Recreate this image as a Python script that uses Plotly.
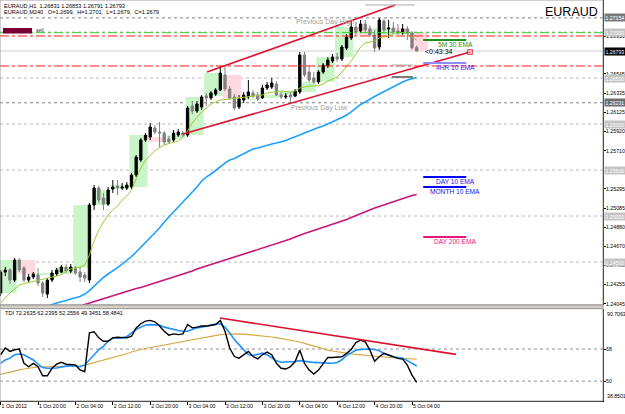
import plotly.graph_objects as go

# ---------------- data ----------------
bars = list(range(90))  # hourly bars, bar 0 = 1 Oct 2012 12:00
time_tick_bars = [0, 8, 16, 24, 32, 40, 48, 56, 64, 72, 80, 88]
time_tick_text = ["1 Oct 2012", "1 Oct 20:00", "2 Oct 04:00", "2 Oct 12:00", "2 Oct 20:00",
                  "3 Oct 04:00", "3 Oct 12:00", "3 Oct 20:00", "4 Oct 04:00", "4 Oct 12:00",
                  "4 Oct 20:00", "5 Oct 04:00"]

open_ = [
    1.24163, 1.24391, 1.24413, 1.24304, 1.24522, 1.24435, 1.24304, 1.24337, 1.24359, 1.24272,
    1.24152, 1.24304, 1.24370, 1.24391, 1.24446, 1.24402, 1.24435, 1.24391, 1.24359, 1.24304,
    1.25120, 1.25304, 1.25196, 1.25130, 1.25293, 1.25326, 1.25304, 1.25304, 1.25315, 1.25446,
    1.25609, 1.25826, 1.25859, 1.25957, 1.25913, 1.25902, 1.25837, 1.25826, 1.25880, 1.25902,
    1.25880, 1.26196, 1.26141, 1.26185, 1.26304, 1.26283, 1.26326, 1.26370, 1.26533, 1.26381,
    1.26294, 1.26185, 1.26261, 1.26294, 1.26337, 1.26315, 1.26283, 1.26391, 1.26402, 1.26435,
    1.26315, 1.26294, 1.26315, 1.26304, 1.26348, 1.26750, 1.26565, 1.26500, 1.26457, 1.26565,
    1.26631, 1.26685, 1.26728, 1.26707, 1.26826, 1.26935, 1.27054, 1.27011, 1.27087, 1.27033,
    1.26968, 1.26837, 1.27120, 1.27033, 1.27044, 1.27011, 1.26989, 1.27033, 1.26990, 1.26831,
]
high = [
    1.24413, 1.24446, 1.24435, 1.24544, 1.24544, 1.24456, 1.24370, 1.24391, 1.24435, 1.24294,
    1.24326, 1.24413, 1.24435, 1.24467, 1.24478, 1.24478, 1.24456, 1.24446, 1.24391, 1.25141,
    1.25337, 1.25326, 1.25250, 1.25315, 1.25391, 1.25391, 1.25359, 1.25370, 1.25467, 1.25663,
    1.25848, 1.25902, 1.26011, 1.25989, 1.26022, 1.25924, 1.25870, 1.25935, 1.25946, 1.25924,
    1.26196, 1.26250, 1.26250, 1.26315, 1.26337, 1.26359, 1.26391, 1.26631, 1.26620, 1.26413,
    1.26326, 1.26315, 1.26348, 1.26478, 1.26370, 1.26348, 1.26424, 1.26457, 1.26500, 1.26467,
    1.26348, 1.26337, 1.26348, 1.26381, 1.26783, 1.26783, 1.26631, 1.26565, 1.26587, 1.26663,
    1.26728, 1.26761, 1.26772, 1.26859, 1.26978, 1.27131, 1.27109, 1.27131, 1.27131, 1.27076,
    1.27022, 1.27154, 1.27141, 1.27131, 1.27109, 1.27087, 1.27087, 1.27065, 1.27010, 1.26853,
]
low = [
    1.24131, 1.24348, 1.24261, 1.24283, 1.24391, 1.24283, 1.24283, 1.24315, 1.24239, 1.24120,
    1.24109, 1.24283, 1.24348, 1.24380, 1.24380, 1.24380, 1.24359, 1.24283, 1.24283, 1.24272,
    1.25065, 1.25141, 1.25065, 1.25109, 1.25250, 1.25228, 1.25283, 1.25283, 1.25293, 1.25424,
    1.25587, 1.25804, 1.25826, 1.25891, 1.25750, 1.25772, 1.25783, 1.25804, 1.25859, 1.25859,
    1.25859, 1.26109, 1.26120, 1.26152, 1.26196, 1.26261, 1.26304, 1.26359, 1.26359, 1.26261,
    1.26152, 1.26163, 1.26228, 1.26272, 1.26283, 1.26250, 1.26272, 1.26370, 1.26381, 1.26304,
    1.26272, 1.26272, 1.26231, 1.26294, 1.26326, 1.26511, 1.26457, 1.26435, 1.26435, 1.26544,
    1.26609, 1.26663, 1.26674, 1.26685, 1.26804, 1.26913, 1.26968, 1.26989, 1.27000, 1.26946,
    1.26783, 1.26804, 1.26989, 1.26935, 1.26978, 1.26968, 1.26968, 1.26913, 1.26810, 1.26791,
]
close = [
    1.24391, 1.24413, 1.24304, 1.24522, 1.24413, 1.24304, 1.24337, 1.24370, 1.24272, 1.24163,
    1.24304, 1.24380, 1.24413, 1.24446, 1.24402, 1.24446, 1.24380, 1.24337, 1.24326, 1.25120,
    1.25304, 1.25174, 1.25130, 1.25283, 1.25315, 1.25304, 1.25315, 1.25337, 1.25446, 1.25641,
    1.25826, 1.25880, 1.25968, 1.25913, 1.25902, 1.25804, 1.25804, 1.25902, 1.25913, 1.25880,
    1.26174, 1.26141, 1.26218, 1.26294, 1.26283, 1.26337, 1.26370, 1.26554, 1.26381, 1.26283,
    1.26174, 1.26272, 1.26315, 1.26348, 1.26304, 1.26272, 1.26391, 1.26424, 1.26446, 1.26315,
    1.26294, 1.26304, 1.26294, 1.26359, 1.26750, 1.26533, 1.26478, 1.26457, 1.26565, 1.26641,
    1.26696, 1.26728, 1.26707, 1.26837, 1.26946, 1.27054, 1.27000, 1.27087, 1.27022, 1.26968,
    1.26826, 1.27131, 1.27022, 1.27044, 1.27000, 1.26989, 1.27033, 1.26985, 1.26831, 1.26793,
]

# fast H1 moving average (yellow-green)
ma_green = [
    1.24054, 1.24109, 1.24163, 1.24207, 1.24250, 1.24266, 1.24277, 1.24288, 1.24299, 1.24310,
    1.24321, 1.24332, 1.24348, 1.24364, 1.24402, 1.24424, 1.24435, 1.24446, 1.24467, 1.24576,
    1.24728, 1.24848, 1.24935, 1.25011, 1.25065, 1.25109, 1.25174, 1.25217, 1.25283, 1.25413,
    1.25522, 1.25609, 1.25663, 1.25707, 1.25745, 1.25772, 1.25788, 1.25804, 1.25815, 1.25859,
    1.25924, 1.26011, 1.26076, 1.26130, 1.26174, 1.26218, 1.26239, 1.26261, 1.26266, 1.26272,
    1.26272, 1.26277, 1.26283, 1.26294, 1.26299, 1.26304, 1.26315, 1.26337, 1.26348, 1.26353,
    1.26359, 1.26353, 1.26348, 1.26359, 1.26391, 1.26402, 1.26413, 1.26413, 1.26419, 1.26435,
    1.26467, 1.26489, 1.26511, 1.26565, 1.26620, 1.26685, 1.26761, 1.26837, 1.26880, 1.26891,
    1.26902, 1.26935, 1.26946, 1.26957, 1.26978, 1.26989, 1.26995, 1.26978, 1.26946, 1.26913,
]
# slower average (sky blue), values from bar 9 onwards
ma_blue = [
    1.23989, 1.24016, 1.24038, 1.24054, 1.24065, 1.24082, 1.24098, 1.24109, 1.24125, 1.24152,
    1.24190, 1.24239, 1.24288, 1.24332, 1.24370, 1.24402, 1.24440, 1.24478, 1.24516, 1.24560,
    1.24609, 1.24663, 1.24707, 1.24761, 1.24815, 1.24870, 1.24935, 1.24989, 1.25044, 1.25098,
    1.25152, 1.25207, 1.25261, 1.25315, 1.25380, 1.25424, 1.25457, 1.25500, 1.25533, 1.25576,
    1.25609, 1.25625, 1.25652, 1.25679, 1.25707, 1.25728, 1.25739, 1.25756, 1.25772, 1.25783,
    1.25794, 1.25804, 1.25821, 1.25843, 1.25859, 1.25880, 1.25902, 1.25924, 1.25946, 1.25962,
    1.25978, 1.26000, 1.26022, 1.26043, 1.26071, 1.26098, 1.26131, 1.26174, 1.26212, 1.26239,
    1.26272, 1.26299, 1.26326, 1.26353, 1.26381, 1.26408, 1.26435, 1.26457, 1.26478, 1.26495,
    1.26505,
]
# long average (magenta), values from bar 14 onwards
ma_magenta = [
    1.24000, 1.24005, 1.24011, 1.24022, 1.24038, 1.24054, 1.24071, 1.24087, 1.24103, 1.24120,
    1.24131, 1.24147, 1.24163, 1.24179, 1.24196, 1.24212, 1.24223, 1.24239, 1.24250, 1.24266,
    1.24283, 1.24299, 1.24315, 1.24332, 1.24348, 1.24364, 1.24386, 1.24402, 1.24424, 1.24440,
    1.24456, 1.24473, 1.24495, 1.24511, 1.24527, 1.24544, 1.24560, 1.24576, 1.24592, 1.24609,
    1.24625, 1.24641, 1.24652, 1.24668, 1.24685, 1.24701, 1.24717, 1.24734, 1.24750, 1.24772,
    1.24793, 1.24810, 1.24826, 1.24842, 1.24859, 1.24875, 1.24891, 1.24908, 1.24924, 1.24946,
    1.24962, 1.24984, 1.25006, 1.25027, 1.25049, 1.25065, 1.25087, 1.25103, 1.25120, 1.25136,
    1.25158, 1.25174, 1.25190, 1.25207, 1.25223, 1.25234,
]

# TDI indicator
tdi_price = [
    64.8, 68.6, 66.7, 67.6, 68.0, 60.0, 58.1, 60.0, 58.1, 53.0,
    53.0, 57.2, 59.5, 60.6, 59.5, 59.1, 59.1, 56.3, 55.3, 77.1,
    77.7, 74.3, 72.4, 72.4, 74.3, 74.6, 74.3, 74.3, 75.2, 79.9,
    82.2, 83.7, 84.1, 83.3, 80.9, 78.0, 75.8, 76.5, 76.1, 76.5,
    81.8, 79.9, 80.3, 80.9, 80.9, 81.3, 81.8, 84.1, 78.0, 68.6,
    63.8, 62.9, 64.8, 66.7, 63.8, 62.5, 64.8, 66.3, 64.8, 60.0,
    57.2, 56.8, 58.1, 61.0, 67.4, 60.0, 56.2, 54.0, 56.2, 59.6,
    63.3, 63.3, 63.3, 63.7, 65.6, 67.8, 71.6, 73.0, 72.0, 67.4,
    61.2, 63.7, 65.6, 64.6, 63.3, 62.75, 62.4, 59.0, 53.4, 49.3451,
]
tdi_signal = [
    60.0, 61.9, 62.9, 64.8, 65.2, 64.8, 63.3, 61.9, 59.5, 57.6,
    57.2, 57.2, 57.4, 58.0, 58.4, 58.7, 58.5, 58.1, 59.1, 61.9,
    64.8, 67.6, 69.5, 72.4, 74.3, 74.3, 74.3, 75.0, 77.0, 79.0,
    80.3, 81.5, 81.7, 81.8, 81.5, 80.3, 79.6, 79.0, 78.4, 78.0,
    78.0, 79.0, 79.9, 80.3, 80.9, 81.5, 82.0, 82.2, 80.3, 77.1,
    73.3, 70.5, 67.6, 64.8, 64.4, 65.2, 65.7, 64.8, 62.9, 61.4,
    60.6, 60.6, 60.8, 61.0, 61.5, 61.0, 60.8, 60.5, 60.3, 60.2,
    60.0, 60.0, 60.5, 62.0, 64.5, 66.0, 67.3, 67.8, 68.0, 68.0,
    67.8, 67.0, 65.5, 64.3, 63.5, 63.2, 62.8, 61.5, 59.8, 58.4841,
]
tdi_middle = [
    53.8, 54.5, 55.1, 55.7, 56.3, 56.8, 57.3, 57.7, 58.0, 58.1,
    58.1, 58.1, 58.1, 58.1, 58.2, 58.3, 58.4, 58.5, 59.0, 59.7,
    60.5, 61.3, 61.9, 62.5, 63.1, 63.7, 64.5, 65.4, 66.3, 67.2,
    67.8, 68.3, 68.8, 69.2, 69.6, 70.2, 70.8, 71.4, 72.0, 72.5,
    73.0, 73.5, 74.0, 74.5, 75.0, 75.4, 75.8, 76.1, 76.3, 76.5,
    76.6, 76.5, 76.4, 76.2, 76.0, 75.8, 75.5, 75.2, 74.8, 74.4,
    74.0, 73.5, 73.0, 72.5, 72.0, 71.2, 70.4, 69.4, 68.6, 68.0,
    67.4, 66.9, 66.4, 66.0, 65.6, 65.3, 65.0, 64.7, 64.4, 64.2,
    63.9, 63.7, 63.5, 63.3, 63.1, 62.9, 62.7, 62.5, 62.3, 62.2395,
]

# trend lines (bar, value)
upper_tl_x, upper_tl_y = [44.15, 84.4], [1.26565, 1.27293]
lower_tl_x, lower_tl_y = [39.0, 100.4], [1.25891, 1.26783]
tdi_tl_x, tdi_tl_y = [46.9, 97.4], [85.4, 65.0]

# horizontal levels
round_levels = [1.245, 1.250, 1.255, 1.260, 1.265, 1.270]
prev_day_high, prev_day_low = 1.27154, 1.26231
bid_price = 1.26793
green_dashdot = [1.26993]
red_dashdot = [1.26957, 1.26631]
gray_marks = [1.27294, 1.26641]
dark_mark = [1.26511]

# EMA reference levels drawn at the right
ema_names = ["5M 30 EMA", "4HR 10 EMA", "DAY 10 EMA", "MONTH 10 EMA", "DAY 200 EMA"]
ema_levels = [1.26913, 1.26663, 1.25424, 1.25315, 1.24772]
ema_line_colors = ["#1E8C1E", "#8C8CFF", "#0000FF", "#0000FF", "#E8157F"]
ema_text_colors = ["#1E8C1E", "#2828FF", "#1414E6", "#1414E6", "#E8157F"]

# price axis labels
price_ticks = [1.26950, 1.26545, 1.26335, 1.26125, 1.25920, 1.25710, 1.25295,
               1.25085, 1.24880, 1.24670, 1.24465, 1.24255, 1.24045]
box_prices = [1.27154, 1.27000, 1.26793, 1.26500, 1.26231, 1.26000, 1.25500, 1.25000, 1.24500]
box_colors = ["#7A7A7A", "#C4C4C4", "#000000", "#C4C4C4", "#6E6E6E", "#C4C4C4", "#C4C4C4",
              "#C4C4C4", "#C4C4C4"]
tdi_ticks = [68, 50]
tdi_range = [38.8501, 90.7063]

# ---------------- layout helpers ----------------
W, H = 625, 414
MR, MB = 22, 13
PW, PH = W - MR, H - MB
FONT = "Liberation Sans"
AXFONT = dict(family=FONT, size=5.2, color="#000000")


def xp(px):
    return px / PW


def yp(py):
    return 1 - py / PH


MAIN_BOTTOM = yp(305)
IND_TOP = yp(308.6)

fig = go.Figure()

shapes = []
for lv in round_levels:
    shapes.append(dict(type="line", xref="paper", x0=0, x1=1, yref="y", y0=lv, y1=lv,
                       line=dict(color="#B8B8B8", width=1, dash="dot"), layer="below"))
for lv in (prev_day_high, prev_day_low):
    shapes.append(dict(type="line", xref="paper", x0=0, x1=1, yref="y", y0=lv, y1=lv,
                       line=dict(color="#808080", width=1, dash="dot"), layer="below"))
shapes.append(dict(type="line", xref="paper", x0=0, x1=1, yref="y", y0=bid_price, y1=bid_price,
                   line=dict(color="#CFCFCF", width=1), layer="below"))
# 4H boxes derived from the hourly bars (open of first hour to close of last hour)
for k in range(0, len(bars), 4):
    o = open_[k]
    c = close[min(k + 3, len(bars) - 1)]
    shapes.append(dict(type="rect", xref="x", yref="y", x0=k - 0.45, x1=k + 3.45,
                       y0=min(o, c), y1=max(o, c), line=dict(width=0),
                       fillcolor="#C9F5C9" if c >= o else "#FFD9DF", layer="below"))
for lv in green_dashdot:
    shapes.append(dict(type="line", xref="paper", x0=0, x1=1, yref="y", y0=lv, y1=lv,
                       line=dict(color="#33CC33", width=1, dash="dashdot")))
for lv in red_dashdot:
    shapes.append(dict(type="line", xref="paper", x0=0, x1=1, yref="y", y0=lv, y1=lv,
                       line=dict(color="#FF1A1A", width=1, dash="dashdot")))
shapes.append(dict(type="line", xref="x", yref="y", x0=78, x1=88.6, y0=gray_marks[0], y1=gray_marks[0],
                   line=dict(color="#A8A8A8", width=1)))
shapes.append(dict(type="line", xref="x", yref="y", x0=83.7, x1=88.2, y0=gray_marks[1], y1=gray_marks[1],
                   line=dict(color="#A8A8A8", width=1)))
shapes.append(dict(type="line", xref="x", yref="y", x0=83.7, x1=88.2, y0=dark_mark[0], y1=dark_mark[0],
                   line=dict(color="#7A7A7A", width=2)))
for lv, col in zip(ema_levels, ema_line_colors):
    shapes.append(dict(type="line", xref="x", yref="y", x0=90.4, x1=99.6, y0=lv, y1=lv,
                       line=dict(color=col, width=2)))
for lv in tdi_ticks:
    shapes.append(dict(type="line", xref="paper", x0=0, x1=1, yref="y2", y0=lv, y1=lv,
                       line=dict(color="#909090", width=1, dash="dot"), layer="below"))
# frames
shapes.append(dict(type="rect", xref="paper", yref="paper", x0=0, x1=1, y0=MAIN_BOTTOM, y1=1,
                   line=dict(color="#A0A0A0", width=1)))
shapes.append(dict(type="rect", xref="paper", yref="paper", x0=0, x1=1, y0=IND_TOP, y1=MAIN_BOTTOM,
                   fillcolor="#D4D0C8", line=dict(color="#909090", width=1)))
shapes.append(dict(type="rect", xref="paper", yref="paper", x0=0, x1=1, y0=0, y1=IND_TOP,
                   line=dict(color="#A0A0A0", width=1)))
# sell marker
shapes.append(dict(type="rect", xref="paper", yref="paper", x0=xp(3), x1=xp(32), y0=yp(33.5), y1=yp(28),
                   fillcolor="#7A0035", line=dict(width=0)))

# traces
fig.add_trace(go.Candlestick(
    x=bars, open=open_, high=high, low=low, close=close, xaxis="x", yaxis="y",
    increasing=dict(line=dict(color="#000000", width=1), fillcolor="#000000"),
    decreasing=dict(line=dict(color="#808080", width=1), fillcolor="#808080"),
    whiskerwidth=0, hoverinfo="skip", showlegend=False))
fig.add_trace(go.Scatter(x=bars, y=ma_green, mode="lines", line=dict(color="#9ACD32", width=1),
                         hoverinfo="skip", showlegend=False, yaxis="y"))
fig.add_trace(go.Scatter(x=bars[-len(ma_blue):], y=ma_blue, mode="lines",
                         line=dict(color="#1EA0FF", width=1.6), hoverinfo="skip", showlegend=False,
                         yaxis="y"))
fig.add_trace(go.Scatter(x=bars[-len(ma_magenta):], y=ma_magenta, mode="lines",
                         line=dict(color="#C8157A", width=1.6), hoverinfo="skip", showlegend=False,
                         yaxis="y"))
fig.add_trace(go.Scatter(x=upper_tl_x, y=upper_tl_y, mode="lines",
                         line=dict(color="#E0102F", width=1.6), hoverinfo="skip", showlegend=False,
                         yaxis="y"))
fig.add_trace(go.Scatter(x=lower_tl_x, y=lower_tl_y, mode="lines+markers",
                         line=dict(color="#E0102F", width=1.6),
                         marker=dict(symbol="square", size=[0, 5], color="#FF9DB0",
                                     line=dict(color="#E0102F", width=1)),
                         hoverinfo="skip", showlegend=False, yaxis="y"))
# TDI
fig.add_trace(go.Scatter(x=bars, y=tdi_middle, mode="lines", line=dict(color="#D8A848", width=1.1),
                         hoverinfo="skip", showlegend=False, yaxis="y2"))
fig.add_trace(go.Scatter(x=bars, y=tdi_signal, mode="lines", line=dict(color="#1E90FF", width=1.6),
                         hoverinfo="skip", showlegend=False, yaxis="y2"))
fig.add_trace(go.Scatter(x=bars, y=tdi_price, mode="lines", line=dict(color="#000000", width=1.4),
                         hoverinfo="skip", showlegend=False, yaxis="y2"))
fig.add_trace(go.Scatter(x=tdi_tl_x, y=tdi_tl_y, mode="lines", line=dict(color="#E0102F", width=1.6),
                         hoverinfo="skip", showlegend=False, yaxis="y2"))

# annotations
ann = []
small = dict(family=FONT, size=5.6, color="#000000")
ann.append(dict(xref="paper", yref="paper", x=xp(2), y=yp(5.7), xanchor="left", yanchor="middle",
                text="EURAUD,H1  1.26831 1.26853 1.26791 1.26793", showarrow=False, font=small))
ann.append(dict(xref="paper", yref="paper", x=xp(2), y=yp(11.8), xanchor="left", yanchor="middle",
                text="EURAUD,M240   O=1.2699,  H=1.2701,  L=1.2679,  C=1.2679", showarrow=False, font=small))
ann.append(dict(xref="paper", yref="paper", x=xp(34), y=yp(30.5), xanchor="left", yanchor="middle",
                text="sell", showarrow=False, font=dict(family=FONT, size=5, color="#333333")))
ann.append(dict(xref="paper", yref="paper", x=xp(600), y=yp(12), xanchor="right", yanchor="middle",
                text="EURAUD", showarrow=False, font=dict(family=FONT, size=12.5, color="#000000")))
ann.append(dict(xref="x", yref="y", x=69.4, y=prev_day_high, yshift=-4.5, xanchor="center",
                yanchor="middle", text="Previous Day High", showarrow=False,
                font=dict(family=FONT, size=7, color="#A0A0A0")))
ann.append(dict(xref="x", yref="y", x=68.3, y=prev_day_low, yshift=-5, xanchor="center",
                yanchor="middle", text="Previous Day Low", showarrow=False,
                font=dict(family=FONT, size=7, color="#A0A0A0")))
ann.append(dict(xref="x", yref="y", x=90.4, y=bid_price, xanchor="left", yanchor="middle",
                text="<0:43:34", showarrow=False, font=dict(family=FONT, size=7, color="#000000")))
for name, lv, col in zip(ema_names, ema_levels, ema_text_colors):
    ann.append(dict(xref="x", yref="y", x=97.2, y=lv, yshift=-4.5, xanchor="center", yanchor="middle",
                    text=name, showarrow=False, font=dict(family=FONT, size=6.6, color=col)))
for lv, bg in zip(box_prices, box_colors):
    ann.append(dict(xref="paper", yref="y", x=1, xshift=1, y=lv, xanchor="left", yanchor="middle",
                    text=f"{lv:.5f}", showarrow=False, bgcolor=bg, borderpad=0.5,
                    font=dict(family=FONT, size=5.2, color="#FFFFFF")))
ann.append(dict(xref="paper", yref="paper", x=xp(3), y=yp(312.5), xanchor="left", yanchor="middle",
                text="TDI 72.2635 62.2395 52.2556 49.3451 58.4841", showarrow=False, font=small))
ann.append(dict(xref="paper", yref="y2", x=1, xshift=2, y=tdi_range[1], xanchor="left", yanchor="top",
                text="90.7063", showarrow=False, font=AXFONT))
ann.append(dict(xref="paper", yref="y2", x=1, xshift=2, y=tdi_range[0], xanchor="left", yanchor="bottom",
                text="38.8501", showarrow=False, font=AXFONT))

fig.update_layout(
    width=W, height=H,
    margin=dict(l=0, r=MR, t=0, b=MB),
    paper_bgcolor="#FFFFFF", plot_bgcolor="#FFFFFF",
    showlegend=False,
    font=dict(family=FONT, size=5.5, color="#000000"),
    shapes=shapes, annotations=ann,
    xaxis=dict(domain=[0, 1], range=[-0.128, 128.856], anchor="y2",
               tickmode="array", tickvals=time_tick_bars, ticktext=time_tick_text,
               tickangle=0, ticklabelposition="outside right", ticks="outside", ticklen=3,
               tickcolor="#000000", tickfont=AXFONT,
               showline=True, linecolor="#000000", linewidth=1, showgrid=False, zeroline=False,
               rangeslider=dict(visible=False), automargin=False, fixedrange=True),
    yaxis=dict(domain=[MAIN_BOTTOM, 1], range=[1.24033, 1.27348], side="right", anchor="x",
               tickmode="array", tickvals=price_ticks, ticktext=[f"{v:.5f}" for v in price_ticks],
               ticks="outside", ticklen=2, tickcolor="#000000", tickfont=AXFONT,
               ticklabelstandoff=-1,
               showline=True, linecolor="#000000", linewidth=1, showgrid=False, zeroline=False,
               automargin=False, fixedrange=True),
    yaxis2=dict(domain=[0, IND_TOP], range=tdi_range, side="right", anchor="x",
                tickmode="array", tickvals=tdi_ticks, ticktext=[str(v) for v in tdi_ticks],
                ticks="outside", ticklen=2, tickcolor="#000000", tickfont=AXFONT,
                ticklabelstandoff=-1,
                showline=True, linecolor="#000000", linewidth=1, showgrid=False, zeroline=False,
                automargin=False, fixedrange=True),
)

fig.write_html("out.html")
